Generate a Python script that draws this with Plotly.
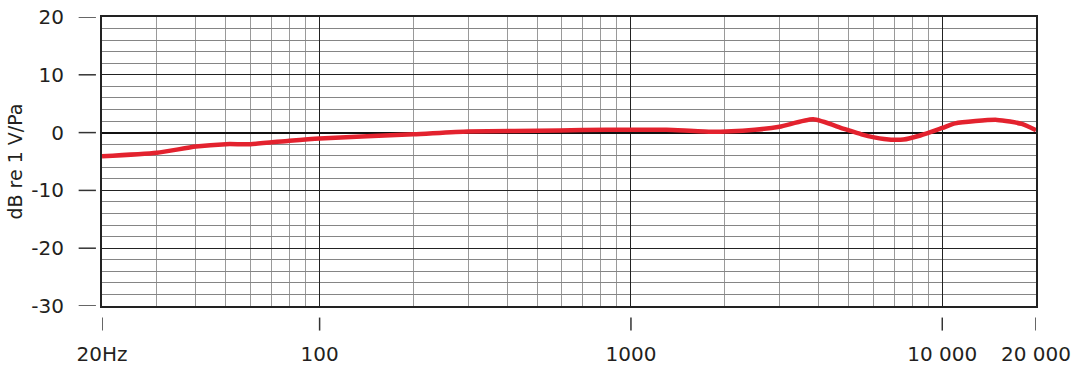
import numpy as np
import plotly.graph_objects as go

freq_hz = [20, 30, 40, 50, 60, 80, 100, 200, 300, 500, 700, 1000, 1300, 1800, 2500,
           3000, 3850, 4800, 5500, 6500, 7500, 8500, 10000, 11000, 15000, 18000, 20000]
level_db = [-4.1, -3.5, -2.4, -2.0, -2.0, -1.4, -1.0, -0.3, 0.2, 0.3, 0.45, 0.5, 0.5, 0.15, 0.5,
            1.0, 2.3, 0.7, -0.3, -1.1, -1.2, -0.5, 0.8, 1.6, 2.2, 1.5, 0.4]

x_tick_vals = [20, 100, 1000, 10000, 20000]
x_tick_text = ["20Hz", "100", "1000", "10 000", "20 000"]
x_minor_vals = [30, 40, 50, 60, 70, 80, 90, 200, 300, 400, 500, 600, 700, 800, 900,
                2000, 3000, 4000, 5000, 6000, 7000, 8000, 9000]
y_tick_vals = [-30, -20, -10, 0, 10, 20]
y_tick_text = ["-30", "-20", "-10", "0", "10", "20"]
y_minor_vals = list(range(-28, 20, 2))

TXT = "#231f20"
FONT = "DejaVu Sans, Liberation Sans, sans-serif"

fig = go.Figure()
fig.add_trace(go.Scatter(x=freq_hz, y=level_db, mode="lines",
                         line=dict(color="#e3222e", width=4.5, shape="spline", smoothing=0.6),
                         hoverinfo="skip", showlegend=False))

fig.update_xaxes(type="log", range=[np.log10(20), np.log10(20000)],
                 tickmode="array", tickvals=x_tick_vals, ticktext=x_tick_text,
                 ticks="", showgrid=True, gridcolor="#222222", gridwidth=1.2,
                 showline=True, linecolor="#222222", linewidth=2, mirror=True,
                 ticklabelstandoff=29, automargin=False,
                 tickfont=dict(size=20, color=TXT, family=FONT),
                 minor=dict(tickvals=x_minor_vals, showgrid=True, gridcolor="#9a9a9a",
                            gridwidth=1, ticks=""),
                 zeroline=False)
fig.update_yaxes(range=[-30, 20], tickmode="array", tickvals=y_tick_vals, ticktext=y_tick_text,
                 ticks="", showgrid=True, gridcolor="#222222", gridwidth=1.2,
                 showline=True, linecolor="#222222", linewidth=2, mirror=True,
                 zeroline=True, zerolinecolor="#111111", zerolinewidth=2,
                 ticklabelstandoff=32, automargin=False,
                 tickfont=dict(size=20, color=TXT, family=FONT),
                 minor=dict(tickvals=y_minor_vals, showgrid=True, gridcolor="#858585",
                            gridwidth=1, ticks=""),
                 title=dict(text="dB re 1 V/Pa", font=dict(size=19, color=TXT, family=FONT),
                            standoff=4))

shapes = []
for v in x_tick_vals:
    shapes.append(dict(type="line", xref="x", yref="paper", x0=v, x1=v, y0=-0.04, y1=-0.085,
                       line=dict(color="#333333", width=1.5)))
for v in y_tick_vals:
    shapes.append(dict(type="line", xref="paper", yref="y", x0=-0.025, x1=-0.0065, y0=v, y1=v,
                       line=dict(color="#333333", width=1.5)))
fig.update_layout(shapes=shapes)

fig.update_layout(width=1085, height=379, margin=dict(l=102, r=49, t=17, b=73),
                  paper_bgcolor="white", plot_bgcolor="white",
                  font=dict(family=FONT, color=TXT))
fig.write_html("out.html")
